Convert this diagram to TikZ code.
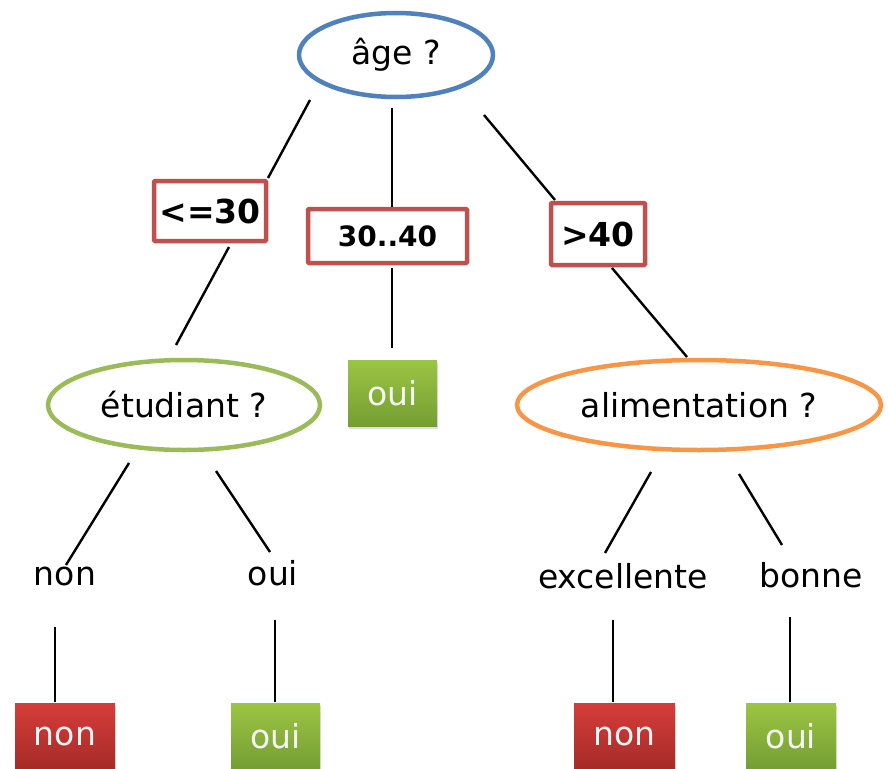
\documentclass[tikz,border=0pt]{standalone}
\usepackage{fontspec}
\setmainfont{DejaVu Sans}
\usetikzlibrary{shapes.geometric,shadows}
\definecolor{qblue}{HTML}{4F81BD}
\definecolor{qgreen}{HTML}{9BBB59}
\definecolor{qorange}{HTML}{F79646}
\definecolor{qred}{HTML}{C0504D}
\definecolor{leafredtop}{HTML}{D63D39}
\definecolor{leafredbot}{HTML}{A52B28}
\definecolor{leafgreentop}{HTML}{9CC543}
\definecolor{leafgreenbot}{HTML}{749E33}
\tikzset{
  question/.style={ellipse, draw, line width=4.5pt, inner sep=0pt,
    font=\fontsize{33}{36}\selectfont},
  branchbox/.style={rectangle, draw=qred, line width=4.5pt, fill=white,
    inner sep=0pt, rounded corners=1pt,
    font=\fontsize{33}{36}\selectfont\bfseries},
  leafbox/.style={rectangle, inner sep=0pt, text=white!96!black,
    minimum width=#1, minimum height=66pt,
    drop shadow={shadow xshift=1pt, shadow yshift=-3pt, opacity=0.25},
    font=\fontsize{33}{36}\selectfont},
  leafno/.style={leafbox=#1, top color=leafredtop, bottom color=leafredbot},
  leafyes/.style={leafbox=#1, top color=leafgreentop, bottom color=leafgreenbot},
  answer/.style={inner sep=0pt, anchor=base, font=\fontsize{33}{36}\selectfont},
  link/.style={line width=2.4pt, black}
}
\begin{document}
\begin{tikzpicture}[x=1pt,y=-1pt]
\useasboundingbox (0,0) rectangle (888,768);

% question nodes
\node[question, draw=qblue, minimum width=194pt, minimum height=84pt] (age) at (396,55) {âge ?};
\node[question, draw=qgreen, minimum width=272pt, minimum height=90pt] (etud) at (184,405) {étudiant ?};
\node[question, draw=qorange, minimum width=364pt, minimum height=90pt] (alim) at (699,405) {alimentation ?};

% branch labels of the first test
\node[branchbox, minimum width=112pt, minimum height=60pt] (le30) at (210,211) {<=30};
\node[branchbox, minimum width=159pt, minimum height=54pt, font=\fontsize{28}{32}\selectfont\bfseries] (mid) at (387.5,236) {30..40};
\node[branchbox, minimum width=94pt, minimum height=62pt] (gt40) at (598,234) {>40};

% answers of the second-level tests
\node[answer] (tnon) at (65,585) {non};
\node[answer] (toui) at (273,585) {oui};
\node[answer] (texc) at (623,588) {excellente};
\node[answer] (tbon) at (811,587) {bonne};

% leaves
\node[leafyes=89pt] (leafmid) at (392.5,393) {oui};
\node[leafno=100pt] (leaf1) at (65,736) {non};
\node[leafyes=89pt] (leaf2) at (275.5,736) {oui};
\node[leafno=101pt] (leaf3) at (624.5,736) {non};
\node[leafyes=90pt] (leaf4) at (791,736) {oui};

% connector end points
\coordinate (c1a) at (310,100);  \coordinate (c1b) at (268,178);
\coordinate (c2a) at (392,108);  \coordinate (c2b) at (392,207);
\coordinate (c3a) at (484,115);  \coordinate (c3b) at (555,200);
\coordinate (c4a) at (229,247);  \coordinate (c4b) at (176,345);
\coordinate (c5a) at (392,268);  \coordinate (c5b) at (392,348);
\coordinate (c6a) at (612,268);  \coordinate (c6b) at (687,357);
\coordinate (c7a) at (129,463);  \coordinate (c7b) at (66,565);
\coordinate (c8a) at (216,471);  \coordinate (c8b) at (270,552);
\coordinate (c9a) at (651,472);  \coordinate (c9b) at (605,553);
\coordinate (c10a) at (739,474); \coordinate (c10b) at (782,545);
\coordinate (c11a) at (55,627);  \coordinate (c11b) at (55,702);
\coordinate (c12a) at (275,620); \coordinate (c12b) at (275,702);
\coordinate (c13a) at (613,620); \coordinate (c13b) at (613,702);
\coordinate (c14a) at (790,617); \coordinate (c14b) at (790,702);

\foreach \i in {1,...,14} \draw[link] (c\i a) -- (c\i b);
\end{tikzpicture}
\end{document}
